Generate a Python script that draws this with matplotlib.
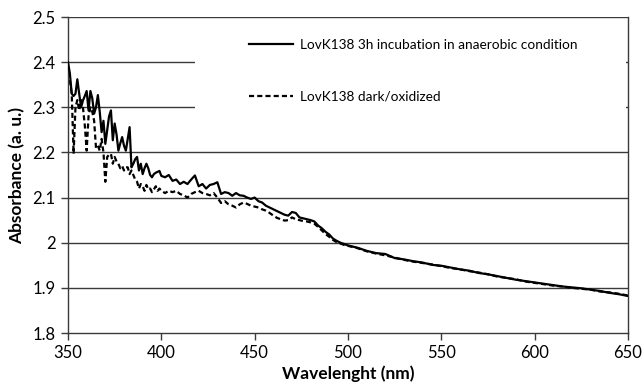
import matplotlib
matplotlib.use("Agg")
import matplotlib.pyplot as plt
from matplotlib.patches import Rectangle

plt.rcParams['font.family'] = ['Lato', 'DejaVu Sans']

wavelength = (list(range(350, 401)) + list(range(402, 501, 2)) + list(range(505, 651, 5)))

anaerobic = [
    2.400, 2.375, 2.330, 2.325, 2.330, 2.362, 2.330, 2.300, 2.315, 2.325,
    2.336, 2.293, 2.336, 2.320, 2.286, 2.300, 2.327, 2.290, 2.245, 2.270,
    2.219, 2.250, 2.280, 2.293, 2.227, 2.264, 2.240, 2.204, 2.220, 2.234,
    2.215, 2.204, 2.230, 2.256, 2.167, 2.175, 2.185, 2.190, 2.160, 2.175,
    2.152, 2.165, 2.175, 2.165, 2.150, 2.145, 2.152, 2.155, 2.157, 2.159,
    2.148,
    # 402..500 step 2
    2.145, 2.150, 2.137, 2.140, 2.130, 2.135, 2.130, 2.140, 2.149, 2.125,
    2.130, 2.120, 2.128, 2.130, 2.134, 2.108, 2.112, 2.110, 2.104, 2.110,
    2.105, 2.104, 2.100, 2.097, 2.100, 2.092, 2.089, 2.082, 2.078, 2.074,
    2.070, 2.066, 2.062, 2.060, 2.068, 2.066, 2.056, 2.054, 2.052, 2.050,
    2.047, 2.038, 2.032, 2.024, 2.018, 2.009, 2.004, 2.000, 1.997, 1.994,
    # 505..650 step 5
    1.989, 1.982, 1.977, 1.975, 1.966, 1.963, 1.959, 1.956, 1.951, 1.949,
    1.945, 1.941, 1.938, 1.933, 1.930, 1.926, 1.922, 1.918, 1.915, 1.912,
    1.909, 1.906, 1.903, 1.901, 1.899, 1.896, 1.893, 1.889, 1.886, 1.882,
]

dark_oxidized = [
    2.378, 2.360, 2.330, 2.197, 2.300, 2.316, 2.293, 2.316, 2.300, 2.260,
    2.204, 2.280, 2.300, 2.290, 2.270, 2.210, 2.215, 2.204, 2.230, 2.200,
    2.135, 2.190, 2.195, 2.197, 2.175, 2.190, 2.180, 2.175, 2.165, 2.170,
    2.160, 2.167, 2.167, 2.152, 2.160, 2.150, 2.140, 2.135, 2.120, 2.130,
    2.125, 2.115, 2.128, 2.118, 2.120, 2.112, 2.118, 2.125, 2.115, 2.120,
    2.115,
    # 402..500 step 2
    2.110, 2.115, 2.112, 2.115, 2.108, 2.105, 2.100, 2.108, 2.112, 2.115,
    2.110, 2.108, 2.105, 2.110, 2.100, 2.088, 2.092, 2.085, 2.082, 2.078,
    2.085, 2.089, 2.086, 2.082, 2.080, 2.078, 2.074, 2.071, 2.066, 2.060,
    2.055, 2.052, 2.049, 2.050, 2.056, 2.052, 2.050, 2.048, 2.047, 2.045,
    2.042, 2.035, 2.027, 2.019, 2.013, 2.006, 2.001, 1.998, 1.995, 1.993,
    # 505..650 step 5
    1.988, 1.981, 1.976, 1.972, 1.967, 1.962, 1.958, 1.955, 1.952, 1.948,
    1.944, 1.941, 1.937, 1.934, 1.930, 1.925, 1.922, 1.919, 1.914, 1.911,
    1.908, 1.905, 1.903, 1.900, 1.898, 1.896, 1.892, 1.890, 1.887, 1.883,
]

x_ticks = [350, 400, 450, 500, 550, 600, 650]
y_ticks = [1.8, 1.9, 2.0, 2.1, 2.2, 2.3, 2.4, 2.5]
y_tick_labels = ["1.8", "1.9", "2", "2.1", "2.2", "2.3", "2.4", "2.5"]
label_anaerobic = "LovK138 3h incubation in anaerobic condition"
label_dark = "LovK138 dark/oxidized"

fig = plt.figure(figsize=(6.44, 3.90), dpi=100)
ax = fig.add_axes([68/644, 1-333/390, (628-68)/644, (333-17)/390])

grid_color = "#3a3a3a"
for yv in y_ticks[1:]:
    ax.axhline(yv, color=grid_color, lw=1.0, zorder=0.5)

ax.add_patch(Rectangle((0.227, 0.60), 0.77, 0.34, transform=ax.transAxes,
                       facecolor="white", edgecolor="none", zorder=1))

ax.plot(wavelength, anaerobic, color="black", lw=1.6, zorder=3, label=label_anaerobic)
ax.plot(wavelength, dark_oxidized, color="black", lw=1.6, ls=(0, (2.3, 1.4)), zorder=2.5,
        label=label_dark)

ax.set_xlim(350, 650)
ax.set_ylim(1.8, 2.5)
ax.set_xticks(x_ticks)
ax.set_yticks(y_ticks)
ax.set_yticklabels(y_tick_labels)
ax.tick_params(axis="both", labelsize=12, colors="#3a3a3a", labelcolor="black",
               length=5, width=1, direction="out", pad=4)

for side in ["left", "bottom", "right"]:
    ax.spines[side].set_color(grid_color)
    ax.spines[side].set_linewidth(1.0)
ax.spines["top"].set_visible(False)
ax.tick_params(axis="y", right=False)

ax.set_xlabel("Wavelenght (nm)", fontsize=12.5, fontweight="bold", labelpad=3)
ax.set_ylabel("Absorbance (a. u.)", fontsize=12.5, fontweight="bold", labelpad=5)

leg = ax.legend(loc="upper left", bbox_to_anchor=(0.302, 0.97), frameon=False,
                fontsize=9.8, labelspacing=2.95, handlelength=3.2, handletextpad=0.5)

fig.savefig("out.png", dpi=100, facecolor="white")
